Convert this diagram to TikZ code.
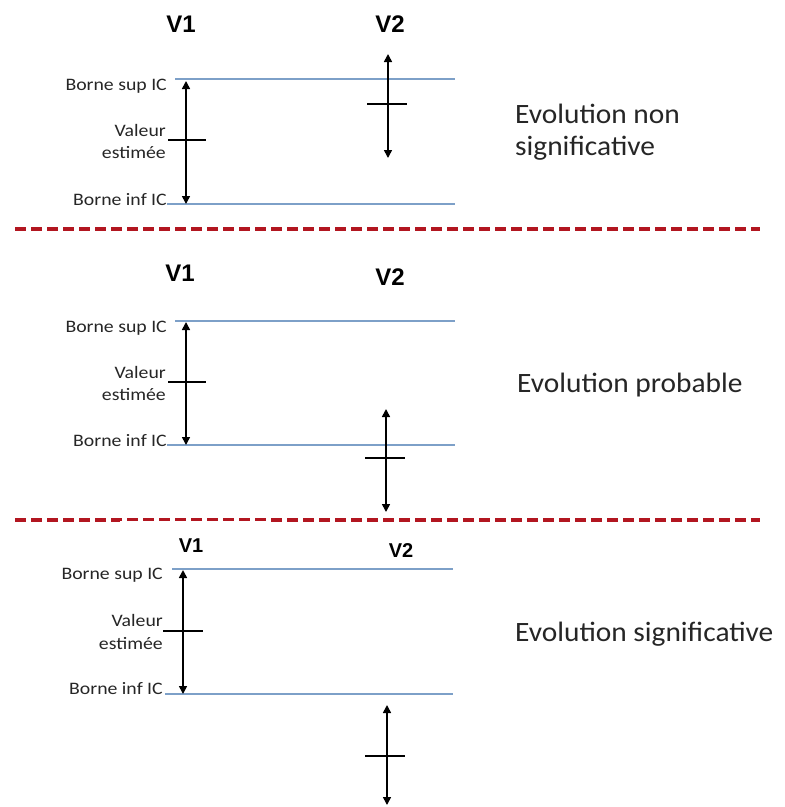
\documentclass[tikz,border=0pt]{standalone}
\usepackage{fontspec}
\usetikzlibrary{arrows.meta}
\newfontfamily\lblfont[FakeStretch=1.13]{Carlito}
\newfontfamily\evofont[FakeStretch=1.05]{Carlito}
\newfontfamily\vfont{Liberation Sans}
\definecolor{icline}{RGB}{125,160,200}
\definecolor{sepred}{RGB}{178,22,32}

\begin{document}
\begin{tikzpicture}[x=1pt,y=-1pt,
borne/.style={anchor=base east,inner sep=0pt,text=black!85,font=\lblfont\fontsize{17.5}{20}\selectfont},
evo/.style={anchor=base west,inner sep=0pt,text=black!85,font=\evofont\fontsize{28}{32}\selectfont},
vlab/.style={anchor=base,inner sep=0pt,font=\vfont\bfseries\fontsize{24}{28}\selectfont},
vsmall/.style={vlab,font=\vfont\bfseries\fontsize{20}{24}\selectfont},
ic/.style={<->,>={Triangle[width=8pt,length=8pt]},line width=1.6pt},
valeur/.style={line width=2.2pt},
seuil/.style={icline,line width=1.2pt},
separation/.style={sepred,line width=3.5pt,dash pattern=on 11pt off 5pt}]

\useasboundingbox[fill=white](0,0)rectangle(785,807);

% Evolution non significative
\node[vlab](v1a)at(181,32){V1};
\node[vlab](v2a)at(390,32){V2};
\node[borne](supa)at(167,90){Borne sup IC};
\node[borne](vala)at(166,136){Valeur};
\node[borne](esta)at(166,158){estimée};
\node[borne](infa)at(167,205){Borne inf IC};
\node[evo](evoa)at(515,123){Evolution non};
\node[evo](evob)at(515,155){significative};
\coordinate(sa1)at(175,79);\coordinate(sa2)at(455,79);
\coordinate(ia1)at(167,204);\coordinate(ia2)at(455,204);
\coordinate(a1h)at(186,81);\coordinate(a1b)at(186,204);
\coordinate(a2h)at(388,54);\coordinate(a2b)at(388,158);
\coordinate(ta1)at(168,140);\coordinate(ta2)at(206,140);
\coordinate(tb1)at(367,104);\coordinate(tb2)at(407,104);
\draw[seuil](sa1)--(sa2);
\draw[seuil](ia1)--(ia2);
\draw[ic](a1h)--(a1b);
\draw[ic](a2h)--(a2b);
\draw[valeur](ta1)--(ta2);
\draw[valeur](tb1)--(tb2);

\coordinate(da1)at(15,229);\coordinate(da2)at(760,229);
\draw[separation](da1)--(da2);

% Evolution probable
\node[vlab](v1b)at(180,281){V1};
\node[vlab](v2b)at(390,285){V2};
\node[borne](supb)at(167,332){Borne sup IC};
\node[borne](valb)at(166,378){Valeur};
\node[borne](estb)at(166,400){estimée};
\node[borne](infb)at(167,446){Borne inf IC};
\node[evo](evoc)at(517,392){Evolution probable};
\coordinate(sb1)at(175,321);\coordinate(sb2)at(455,321);
\coordinate(ib1)at(167,445);\coordinate(ib2)at(455,445);
\coordinate(b1h)at(186,322);\coordinate(b1b)at(186,445);
\coordinate(b2h)at(386,409);\coordinate(b2b)at(386,512);
\coordinate(tc1)at(168,382);\coordinate(tc2)at(206,382);
\coordinate(td1)at(365,458);\coordinate(td2)at(405,458);
\draw[seuil](sb1)--(sb2);
\draw[seuil](ib1)--(ib2);
\draw[ic](b1h)--(b1b);
\draw[ic](b2h)--(b2b);
\draw[valeur](tc1)--(tc2);
\draw[valeur](td1)--(td2);

\coordinate(db1)at(15,520);\coordinate(db2)at(760,520);
\draw[separation](db1)--(db2);
\fill[white](120,521)rectangle(268,525);

% Evolution significative
\node[vsmall](v1c)at(191,552){V1};
\node[vsmall](v2c)at(401,557){V2};
\node[borne](supc)at(163,579){Borne sup IC};
\node[borne](valc)at(163,626){Valeur};
\node[borne](estc)at(163,649){estimée};
\node[borne](infc)at(163,694){Borne inf IC};
\node[evo](evod)at(515,641){Evolution significative};
\coordinate(sc1)at(172,569);\coordinate(sc2)at(453,569);
\coordinate(ic1)at(165,694);\coordinate(ic2)at(453,694);
\coordinate(c1h)at(183,570);\coordinate(c1b)at(183,694);
\coordinate(c2h)at(387,705);\coordinate(c2b)at(387,805);
\coordinate(te1)at(163,631);\coordinate(te2)at(203,631);
\coordinate(tf1)at(365,756);\coordinate(tf2)at(405,756);
\draw[seuil](sc1)--(sc2);
\draw[seuil](ic1)--(ic2);
\draw[ic](c1h)--(c1b);
\draw[ic](c2h)--(c2b);
\draw[valeur](te1)--(te2);
\draw[valeur](tf1)--(tf2);

\end{tikzpicture}
\end{document}
